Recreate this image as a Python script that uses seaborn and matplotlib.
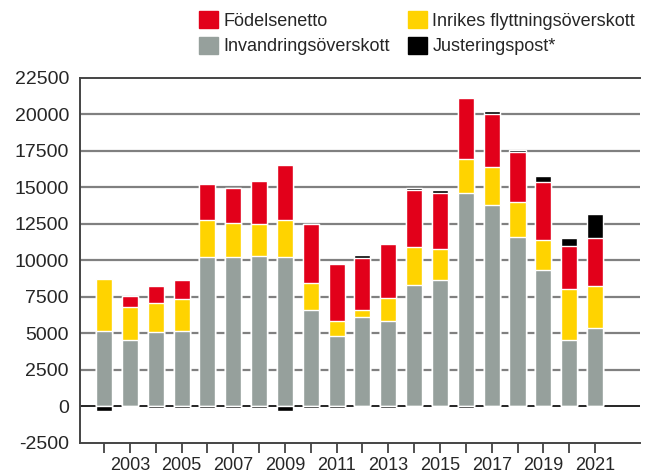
import numpy as np
import pandas as pd
import seaborn as sns
import matplotlib.pyplot as plt
from matplotlib.patches import Patch

# Data
years = list(range(2002, 2022))
invandring = [5180, 4505, 5113, 5180, 10221, 10221, 10288, 10221, 6599, 4842,
              6126, 5856, 8277, 8641, 14572, 13761, 11615, 9296, 4505, 5383]
inrikes = [3530, 2300, 1960, 2160, 2527, 2324, 2190, 2527, 1823, 1014,
           473, 1554, 2608, 2111, 2346, 2640, 2349, 2120, 3553, 2821]
fodelse = [0, 750, 1130, 1300, 2490, 2433, 2953, 3782, 4056, 3877,
           3578, 3674, 3957, 3820, 4174, 3599, 3471, 3950, 2893, 3345]
justering = [-300, 0, -150, -150, -150, -150, -150, -300, -150, -150,
             177, -150, 136, 203, -150, 218, 130, 388, 598, 1604]

c_red = "#E2001A"
c_yellow = "#FFD300"
c_gray = "#96A09C"
c_black = "#000000"

df = pd.DataFrame({"year": [str(y) for y in years],
                   "inv": invandring, "inr": inrikes,
                   "fod": fodelse, "just": justering})
df["s1"] = df["inv"]
df["s2"] = df["s1"] + df["inr"]
df["s3"] = df["s2"] + df["fod"]
df["s4"] = df["s3"] + df["just"].clip(lower=0)
df["neg"] = df["just"].clip(upper=0)

sns.set_style("white")
plt.rcParams['font.family'] = ['Liberation Sans', 'DejaVu Sans']

fig = plt.figure(figsize=(6.48, 4.75), dpi=100)
ax = fig.add_axes([80/648, 1-442.7/475, 560/648, (442.7-77.7)/475])

ax.set_axisbelow(True)
for v in range(-2500, 22501, 2500):
    if v in (-2500, 22500):
        continue
    ax.axhline(v, color="black" if v == 0 else "#808080", lw=1.6 if v != 0 else 1.2, zorder=0)

w = 0.62
sns.barplot(data=df, x="year", y="s4", color=c_black, width=w, saturation=1, ax=ax, zorder=2)
sns.barplot(data=df, x="year", y="s3", color=c_red, width=w, saturation=1, ax=ax, zorder=2)
sns.barplot(data=df, x="year", y="s2", color=c_yellow, width=w, saturation=1, ax=ax, zorder=2)
sns.barplot(data=df, x="year", y="s1", color=c_gray, width=w, saturation=1, ax=ax, zorder=2)
sns.barplot(data=df, x="year", y="neg", color=c_black, width=w, saturation=1, ax=ax, zorder=2)

ax.set_xlim(-0.93, 20.74)
ax.set_ylim(-2500, 22500)
ax.set_yticks(range(-2500, 22501, 2500))
ax.set_yticklabels([str(v) for v in range(-2500, 22501, 2500)], fontsize=14)
ax.set_xticks(range(len(years)))
ax.set_xticklabels([str(y) if y % 2 == 1 else "" for y in years], fontsize=13)
ax.tick_params(axis="x", length=7, width=1.2, color="#333333", direction="out", pad=3, bottom=True)
ax.tick_params(axis="y", length=0, pad=8)
ax.set_xlabel("")
ax.set_ylabel("")

for s in ["left", "bottom", "top"]:
    ax.spines[s].set_color("#444444")
    ax.spines[s].set_linewidth(1.4)
ax.spines["right"].set_visible(False)

handles = [Patch(color=c_red, label="Födelsenetto"),
           Patch(color=c_gray, label="Invandringsöverskott"),
           Patch(color=c_yellow, label="Inrikes flyttningsöverskott"),
           Patch(color=c_black, label="Justeringspost*")]
fig.legend(handles=handles, ncol=2, loc="upper left",
           bbox_to_anchor=(199/648, 1-11/475), frameon=False, fontsize=13,
           borderpad=0, borderaxespad=0, handlelength=1.05, handleheight=1.05,
           handletextpad=0.3, columnspacing=1.0, labelspacing=0.4)

fig.savefig("out.png", dpi=100)
